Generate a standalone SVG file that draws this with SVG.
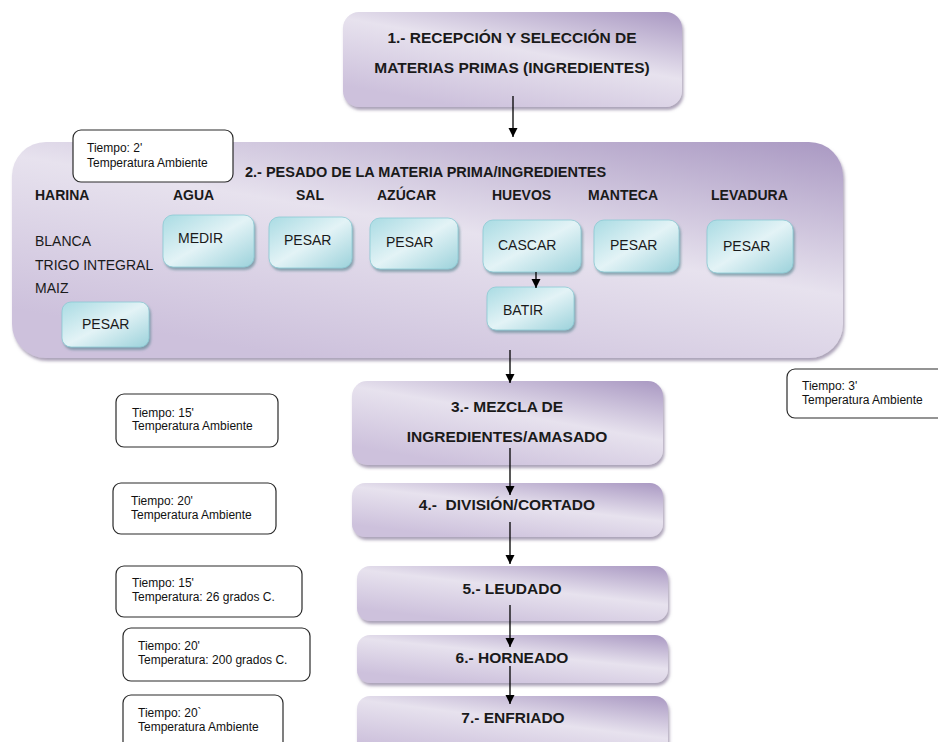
<svg xmlns="http://www.w3.org/2000/svg" width="938" height="742" viewBox="0 0 938 742">
<defs>
<linearGradient id="gPurple" x1="1" y1="0" x2="0.35" y2="1">
<stop offset="0" stop-color="#a998c2"/>
<stop offset="0.5" stop-color="#e7e2ee"/>
<stop offset="1" stop-color="#cdc1dc"/>
</linearGradient>
<linearGradient id="gCyan" x1="0" y1="0" x2="1" y2="1">
<stop offset="0" stop-color="#a9dbe3"/>
<stop offset="0.5" stop-color="#e3f3f6"/>
<stop offset="1" stop-color="#9cd2db"/>
</linearGradient>
<filter id="sh" x="-5%" y="-10%" width="112%" height="130%">
<feDropShadow dx="1.5" dy="3" stdDeviation="1.5" flood-color="#6b5a80" flood-opacity="0.55"/>
</filter>
<filter id="shc" x="-10%" y="-10%" width="125%" height="135%">
<feDropShadow dx="1.5" dy="2.5" stdDeviation="1.2" flood-color="#4f7f88" flood-opacity="0.6"/>
</filter>
<marker id="arr" markerUnits="userSpaceOnUse" markerWidth="10" markerHeight="11" refX="9" refY="4.5" orient="auto">
<path d="M0,0 L9,4.5 L0,9 z" fill="#000"/>
</marker>
<style>
.pbox{fill:url(#gPurple);filter:url(#sh);}
.cbox{fill:url(#gCyan);stroke:#8ccad4;stroke-width:0.8;filter:url(#shc);}
.note{fill:#fff;stroke:#2a2a2a;stroke-width:1.2;}
.t{font-family:"Liberation Sans",Arial,sans-serif;fill:#1a1a1a;}
.title{font-size:15.5px;font-weight:bold;text-anchor:middle;}
.lab{font-size:14px;font-weight:bold;}
.ct{font-size:14px;}
.nt{font-size:12px;fill:#111;}
.conn line{stroke:#000;stroke-width:1.3;marker-end:url(#arr);}
</style>
</defs>

<g id="step1">
<rect class="pbox" x="343" y="12" width="339" height="95" rx="16"/>
<text class="t title" x="512" y="43">1.- RECEPCIÓN Y SELECCIÓN DE</text>
<text class="t title" x="512" y="73">MATERIAS PRIMAS (INGREDIENTES)</text>
</g>

<g id="step2">
<rect class="pbox" x="12" y="142" width="831" height="216" rx="34"/>
<text class="t" x="245" y="177" style="font-size:14.5px;font-weight:bold">2.- PESADO DE LA MATERIA PRIMA/INGREDIENTES</text>
<text class="t lab" x="35" y="200">HARINA</text>
<text class="t lab" x="173" y="200">AGUA</text>
<text class="t lab" x="296" y="200">SAL</text>
<text class="t lab" x="377" y="200">AZÚCAR</text>
<text class="t lab" x="492" y="200">HUEVOS</text>
<text class="t lab" x="588" y="200">MANTECA</text>
<text class="t lab" x="711" y="200">LEVADURA</text>
<text class="t ct" x="35" y="246">BLANCA</text>
<text class="t ct" x="35" y="270">TRIGO INTEGRAL</text>
<text class="t ct" x="35" y="293">MAIZ</text>
</g>

<g id="agua-medir">
<rect class="cbox" x="163" y="215" width="91" height="52" rx="10"/>
<text class="t ct" x="178" y="243">MEDIR</text>
</g>
<g id="sal-pesar">
<rect class="cbox" x="269" y="217" width="83" height="51" rx="10"/>
<text class="t ct" x="284" y="245">PESAR</text>
</g>
<g id="azucar-pesar">
<rect class="cbox" x="370" y="218" width="88" height="51" rx="10"/>
<text class="t ct" x="386" y="247">PESAR</text>
</g>
<g id="huevos-cascar">
<rect class="cbox" x="483" y="220" width="98" height="52" rx="10"/>
<text class="t ct" x="498" y="250">CASCAR</text>
</g>
<g id="manteca-pesar">
<rect class="cbox" x="594" y="220" width="85" height="52" rx="10"/>
<text class="t ct" x="610" y="250">PESAR</text>
</g>
<g id="levadura-pesar">
<rect class="cbox" x="707" y="220" width="86" height="53" rx="10"/>
<text class="t ct" x="723" y="251">PESAR</text>
</g>
<g id="huevos-batir">
<rect class="cbox" x="487" y="287" width="87" height="43" rx="9"/>
<text class="t ct" x="503" y="315">BATIR</text>
</g>
<g id="harina-pesar">
<rect class="cbox" x="62" y="302" width="87" height="45" rx="9"/>
<text class="t ct" x="82" y="329">PESAR</text>
</g>

<g id="step3">
<rect class="pbox" x="352" y="381" width="311" height="84" rx="15"/>
<text class="t title" x="507" y="412">3.- MEZCLA DE</text>
<text class="t title" x="507" y="442">INGREDIENTES/AMASADO</text>
</g>
<g id="step4">
<rect class="pbox" x="352" y="483" width="311" height="54" rx="13"/>
<text class="t title" x="507" y="510">4.-&#160; DIVISIÓN/CORTADO</text>
</g>
<g id="step5">
<rect class="pbox" x="357" y="566" width="311" height="55" rx="13"/>
<text class="t title" x="512" y="594">5.- LEUDADO</text>
</g>
<g id="step6">
<rect class="pbox" x="357" y="635" width="311" height="48" rx="13"/>
<text class="t title" x="512" y="663">6.- HORNEADO</text>
</g>
<g id="step7">
<rect class="pbox" x="357" y="696" width="311" height="60" rx="13"/>
<text class="t title" x="513" y="723">7.- ENFRIADO</text>
</g>

<g id="note-2">
<rect class="note" x="73" y="130" width="160" height="52" rx="8"/>
<text class="t nt" x="87" y="152">Tiempo: 2'</text>
<text class="t nt" x="87" y="167">Temperatura Ambiente</text>
</g>
<g id="note-3min">
<rect class="note" x="787" y="369" width="170" height="49" rx="8"/>
<text class="t nt" x="802" y="390">Tiempo: 3'</text>
<text class="t nt" x="802" y="404">Temperatura Ambiente</text>
</g>
<g id="note-15a">
<rect class="note" x="116" y="394" width="162" height="53" rx="8"/>
<text class="t nt" x="132" y="417">Tiempo: 15'</text>
<text class="t nt" x="132" y="430">Temperatura Ambiente</text>
</g>
<g id="note-20a">
<rect class="note" x="113" y="483" width="163" height="51" rx="8"/>
<text class="t nt" x="131" y="505">Tiempo: 20'</text>
<text class="t nt" x="131" y="519">Temperatura Ambiente</text>
</g>
<g id="note-15b">
<rect class="note" x="116" y="566" width="186" height="51" rx="8"/>
<text class="t nt" x="132" y="587">Tiempo: 15'</text>
<text class="t nt" x="132" y="601">Temperatura: 26 grados C.</text>
</g>
<g id="note-20b">
<rect class="note" x="123" y="628" width="187" height="53" rx="8"/>
<text class="t nt" x="138" y="650">Tiempo: 20'</text>
<text class="t nt" x="138" y="664">Temperatura: 200 grados C.</text>
</g>
<g id="note-20c">
<rect class="note" x="123" y="695" width="160" height="60" rx="8"/>
<text class="t nt" x="138" y="717">Tiempo: 20`</text>
<text class="t nt" x="138" y="731">Temperatura Ambiente</text>
</g>

<g id="connectors" class="conn">
<line x1="513" y1="96" x2="513" y2="137"/>
<line x1="536" y1="272" x2="536" y2="288"/>
<line x1="510" y1="350" x2="510" y2="383"/>
<line x1="510" y1="448" x2="510" y2="495"/>
<line x1="510" y1="522" x2="510" y2="564"/>
<line x1="510" y1="605" x2="510" y2="647"/>
<line x1="510" y1="666" x2="510" y2="704"/>
</g>
</svg>
